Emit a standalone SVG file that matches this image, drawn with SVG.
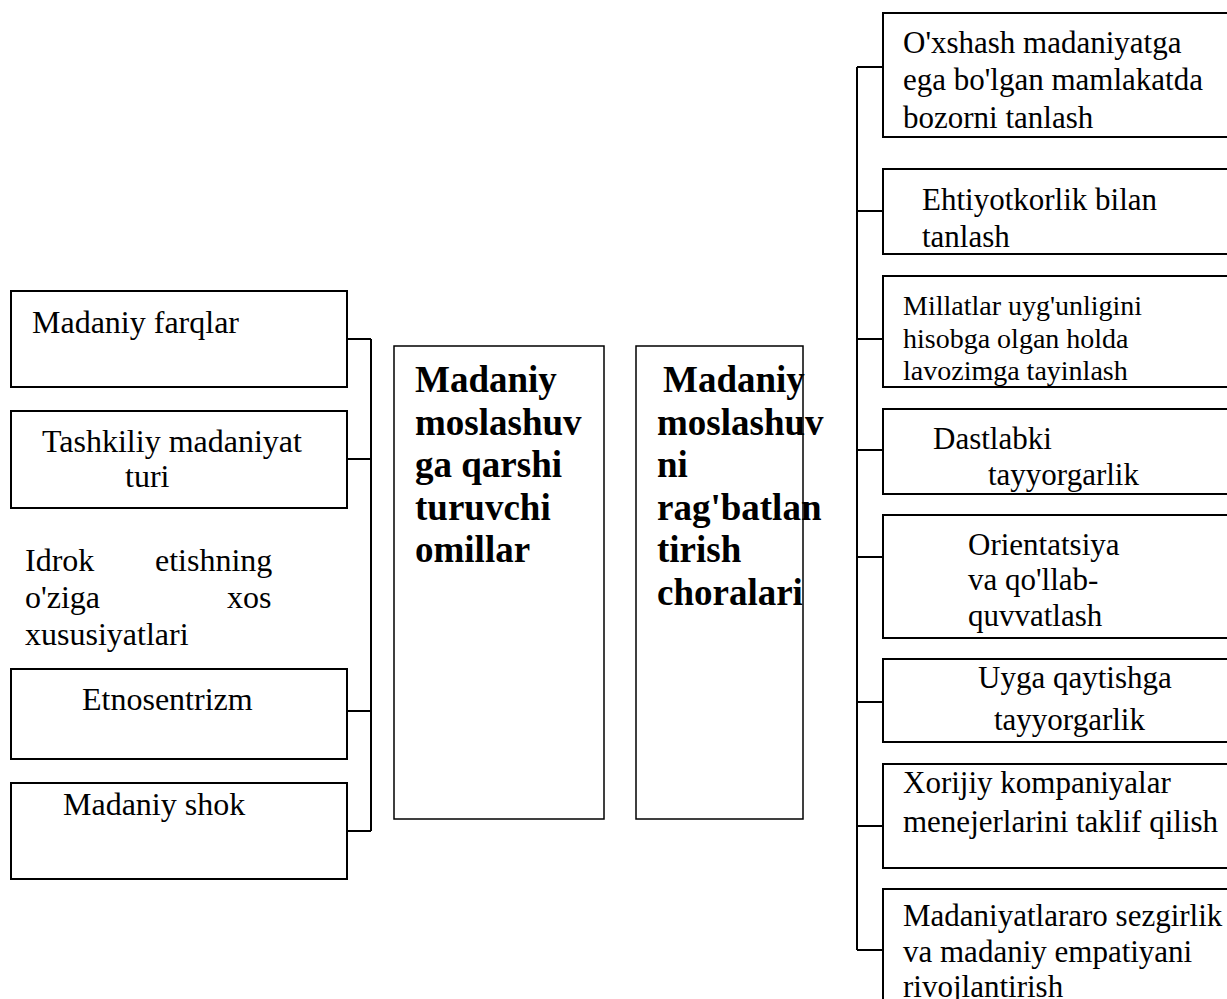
<svg xmlns="http://www.w3.org/2000/svg" width="1227" height="999" viewBox="0 0 1227 999">
  <style>
    .box { fill: #fff; stroke: #000; stroke-width: 2; }
    .hub { fill: #fff; stroke: #000; stroke-width: 1.5; }
    .link { fill: none; stroke: #000; stroke-width: 2; }
    text { font-family: "Liberation Serif", "Times New Roman", serif; fill: #000; }
    .tl { font-size: 32px; }
    .t { font-size: 31px; }
    .ts { font-size: 28px; }
    .tb { font-size: 37px; font-weight: bold; }
  </style>
  <rect width="1227" height="999" fill="#fff"/>

  <!-- connectors -->
  <g id="connectors">
    <path class="link" d="M347 339H371M347 459H371M347 711H371M347 831H371M371 339V831"/>
    <path class="link" d="M857 67V950M857 67H883M857 211H883M857 339H883M857 450H883M857 557H883M857 702H883M857 826H883M857 950H883"/>
  </g>

  <!-- left column: factors -->
  <g id="n-farqlar">
    <rect class="box" x="11" y="291" width="336" height="96"/>
    <text class="tl" x="32" y="333">Madaniy farqlar</text>
  </g>
  <g id="n-tashkiliy">
    <rect class="box" x="11" y="411" width="336" height="97"/>
    <text class="tl" x="42" y="452">Tashkiliy madaniyat</text>
    <text class="tl" x="125" y="487">turi</text>
  </g>
  <g id="n-idrok">
    <text class="tl" x="25" y="571">Idrok</text>
    <text class="tl" x="155" y="571">etishning</text>
    <text class="tl" x="25" y="608">o'ziga</text>
    <text class="tl" x="227" y="608">xos</text>
    <text class="tl" x="25" y="645">xususiyatlari</text>
  </g>
  <g id="n-etnosentrizm">
    <rect class="box" x="11" y="669" width="336" height="90"/>
    <text class="tl" x="82" y="710">Etnosentrizm</text>
  </g>
  <g id="n-shok">
    <rect class="box" x="11" y="783" width="336" height="96"/>
    <text class="tl" x="63" y="815">Madaniy shok</text>
  </g>

  <!-- central headings -->
  <g id="n-qarshi">
    <rect class="hub" x="394" y="346" width="210" height="473"/>
    <text class="tb" x="415" y="392">Madaniy</text>
    <text class="tb" x="415" y="435">moslashuv</text>
    <text class="tb" x="415" y="477">ga qarshi</text>
    <text class="tb" x="415" y="520">turuvchi</text>
    <text class="tb" x="415" y="562">omillar</text>
  </g>
  <g id="n-choralar">
    <rect class="hub" x="636" y="346" width="167" height="473"/>
    <text class="tb" x="663" y="392">Madaniy</text>
    <text class="tb" x="657" y="435">moslashuv</text>
    <text class="tb" x="657" y="477">ni</text>
    <text class="tb" x="657" y="520">rag'batlan</text>
    <text class="tb" x="657" y="562">tirish</text>
    <text class="tb" x="657" y="605">choralari</text>
  </g>

  <!-- right column: measures -->
  <g id="n-bozor">
    <rect class="box" x="883" y="13" width="350" height="124"/>
    <text class="t" x="903" y="53">O'xshash madaniyatga</text>
    <text class="t" x="903" y="90">ega bo'lgan mamlakatda</text>
    <text class="t" x="903" y="128">bozorni tanlash</text>
  </g>
  <g id="n-ehtiyot">
    <rect class="box" x="883" y="169" width="350" height="85"/>
    <text class="t" x="922" y="210">Ehtiyotkorlik bilan</text>
    <text class="t" x="922" y="247">tanlash</text>
  </g>
  <g id="n-millatlar">
    <rect class="box" x="883" y="276" width="350" height="111"/>
    <text class="ts" x="903" y="315">Millatlar uyg'unligini</text>
    <text class="ts" x="903" y="348">hisobga olgan holda</text>
    <text class="ts" x="903" y="380">lavozimga tayinlash</text>
  </g>
  <g id="n-dastlabki">
    <rect class="box" x="883" y="409" width="350" height="85"/>
    <text class="t" x="933" y="449">Dastlabki</text>
    <text class="t" x="988" y="485">tayyorgarlik</text>
  </g>
  <g id="n-orientatsiya">
    <rect class="box" x="883" y="515" width="350" height="123"/>
    <text class="t" x="968" y="555">Orientatsiya</text>
    <text class="t" x="968" y="590">va qo'llab-</text>
    <text class="t" x="968" y="626">quvvatlash</text>
  </g>
  <g id="n-uyga">
    <rect class="box" x="883" y="659" width="350" height="83"/>
    <text class="t" x="978" y="688">Uyga qaytishga</text>
    <text class="t" x="994" y="730">tayyorgarlik</text>
  </g>
  <g id="n-xorijiy">
    <rect class="box" x="883" y="764" width="350" height="104"/>
    <text class="t" x="903" y="793">Xorijiy kompaniyalar</text>
    <text class="t" x="903" y="832">menejerlarini taklif qilish</text>
  </g>
  <g id="n-sezgirlik">
    <rect class="box" x="883" y="889" width="350" height="130"/>
    <text class="t" x="903" y="926">Madaniyatlararo sezgirlik</text>
    <text class="t" x="903" y="962">va madaniy empatiyani</text>
    <text class="t" x="903" y="997">rivojlantirish</text>
  </g>
</svg>
